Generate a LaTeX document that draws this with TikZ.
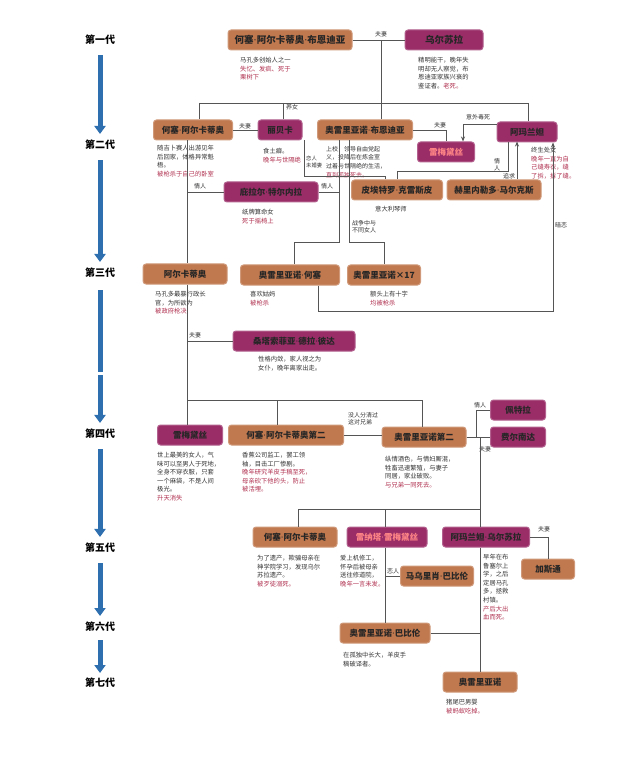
\documentclass[tikz,border=0pt]{standalone}
\usepackage{fontspec}
\setmainfont{Noto Sans CJK SC}
\newfontfamily\latf{DejaVu Sans}
\newcommand{\dt}{{\latf\mdseries ·}}
\usetikzlibrary{arrows.meta}
\definecolor{boxo}{HTML}{C0784E}
\definecolor{boxp}{HTML}{9A2D68}
\definecolor{redt}{HTML}{B0304F}
\definecolor{notegray}{HTML}{333333}
\definecolor{lin}{HTML}{555555}
\definecolor{blu}{HTML}{2E6FB0}
\begin{document}
\begin{tikzpicture}[x=1pt,y=-1pt,
  ob/.style={rectangle,rounded corners=3pt,fill=boxo,draw=boxo!75!white,line width=1pt,inner sep=0pt,minimum height=20pt,text=black!85,font=\bfseries\fontsize{8.5}{9}\selectfont},
  pb/.style={ob,fill=boxp,draw=boxp!75!white},
  note/.style={anchor=north west,align=left,inner sep=0pt,text=notegray,font=\fontsize{6.3}{8.6}\selectfont},
  lab/.style={inner sep=0pt,text=notegray,font=\fontsize{6}{7}\selectfont},
  gen/.style={inner sep=0pt,font=\bfseries\fontsize{10}{11}\selectfont},
  con/.style={draw=lin,line width=0.8pt},
  arr/.style={con,-{Stealth[length=5pt,width=4pt]}},
  barr/.style={draw=blu,line width=5pt,-{Triangle[width=11pt,length=8pt]}}]
\useasboundingbox[fill=white] (0,0) rectangle (640,775);
% generation labels
\node[gen] (g1) at (100,40) {第一代};
\node[gen] (g2) at (100,145) {第二代};
\node[gen] (g3) at (100,273) {第三代};
\node[gen] (g4) at (100,434) {第四代};
\node[gen] (g5) at (100,548) {第五代};
\node[gen] (g6) at (100,627) {第六代};
\node[gen] (g7) at (100,683) {第七代};
\draw[barr] (g1.south)++(0,10) -- ([yshift=6pt]g2.north);
\draw[barr] (g2.south)++(0,10) -- ([yshift=6pt]g3.north);
\draw[blu,line width=5pt] (g3.south)++(0,12) -- (100,372);
\draw[barr] (100,375) -- ([yshift=6pt]g4.north);
\draw[barr] (g4.south)++(0,10) -- ([yshift=6pt]g5.north);
\draw[barr] (g5.south)++(0,10) -- ([yshift=6pt]g6.north);
\draw[barr] (g6.south)++(0,8) -- ([yshift=5pt]g7.north);
% gen 1
\node[ob,minimum width=124pt,font=\bfseries\fontsize{9.5}{10}\selectfont] (A1) at (290,40) {何塞\dt 阿尔卡蒂奥\dt 布恩迪亚};
\node[pb,minimum width=78pt,font=\bfseries\fontsize{9.5}{10}\selectfont] (U) at (444,40) {乌尔苏拉};
\node[note] at (240,57) {马孔多创始人之一\\\textcolor{redt}{失忆、发疯、死于}\\\textcolor{redt}{栗树下}};
\node[note] at (418,57) {精明能干，晚年失\\明却无人察觉，布\\恩迪亚家族兴衰的\\鉴证者。\textcolor{redt}{老死。}};
% gen 2
\node[ob,minimum width=79pt] (J1) at (193,130) {何塞\dt 阿尔卡蒂奥};
\node[pb,minimum width=44pt] (R) at (280,130) {丽贝卡};
\node[ob,minimum width=95pt] (O1) at (365,130) {奥雷里亚诺\dt 布恩迪亚};
\node[pb,minimum width=57pt,text=pink!70!red] (Rm) at (446,152) {雷梅黛丝};
\node[pb,minimum width=60pt] (Am) at (527,132) {阿玛兰妲};
\node[ob,minimum width=91pt] (PC) at (397,190) {皮埃特罗\dt 克雷斯皮};
\node[ob,minimum width=94pt] (HM) at (494,190) {赫里内勒多\dt 马尔克斯};
\node[pb,minimum width=94pt] (Pi) at (271,192) {庇拉尔\dt 特尔内拉};
\node[note] at (157,145) {随吉卜赛人出游见年\\后回家，体格异常魁\\梧。\\\textcolor{redt}{被枪杀于自己的卧室}};
\node[note] at (263,148) {食土癖。\\\textcolor{redt}{晚年与世隔绝}};
\node[note,font=\fontsize{6}{8.6}\selectfont] at (326,146) {上校，领导自由党起\\义，投降后在炼金室\\过着与世隔绝的生活，\\\textcolor{redt}{直到孤独死去。}};
\node[note] at (531,147) {终生处女\\\textcolor{redt}{晚年一直为自}\\\textcolor{redt}{己缝寿衣，缝}\\\textcolor{redt}{了拆，拆了缝。}};
\node[note] at (375,206) {意大利琴师};
\node[note] at (242,209) {纸牌算命女\\\textcolor{redt}{死于摇椅上}};
% gen 3
\node[ob,minimum width=84pt] (Ar) at (185,274) {阿尔卡蒂奥};
\node[ob,minimum width=99pt] (OJ) at (290,275) {奥雷里亚诺\dt 何塞};
\node[ob,minimum width=73pt] (O17) at (384,275) {奥雷里亚诺×17};
\node[note] at (155,291) {马孔多最暴行政长\\官，为所欲为\\\textcolor{redt}{被政府枪决}};
\node[note] at (250,291) {喜欢姑妈\\\textcolor{redt}{被枪杀}};
\node[note] at (370,291) {额头上有十字\\\textcolor{redt}{均被枪杀}};
\node[pb,minimum width=122pt] (SS) at (294,341) {桑塔索菲亚\dt 德拉\dt 彼达};
\node[note] at (258,356) {性格内敛，家人视之为\\女仆，晚年离家出走。};
% gen 4
\node[pb,minimum width=65pt] (Rb) at (190,435) {雷梅黛丝};
\node[ob,minimum width=115pt] (JA2) at (286,435) {何塞\dt 阿尔卡蒂奥第二};
\node[ob,minimum width=84pt] (A2) at (424,437) {奥雷里亚诺第二};
\node[pb,minimum width=55pt] (Pe) at (518,410) {佩特拉};
\node[pb,minimum width=55pt] (Fe) at (518,437) {费尔南达};
\node[note] at (157,452) {世上最美的女人，气\\味可以至男人于死地，\\全身不穿衣服，只套\\一个麻袋，不是人间\\极光。\\\textcolor{redt}{升天消失}};
\node[note] at (242,452) {香蕉公司监工，罢工领\\袖，目击工厂惨剧。\\\textcolor{redt}{晚年研究羊皮手稿至死，}\\\textcolor{redt}{母亲砍下他的头，防止}\\\textcolor{redt}{被活埋。}};
\node[note] at (385,456) {纵情酒色，与情妇厮混，\\牲畜迅速繁殖，与妻子\\同居，家业破败。\\\textcolor{redt}{与兄弟一同死去。}};
% gen 5
\node[ob,minimum width=84pt] (JA5) at (295,537) {何塞\dt 阿尔卡蒂奥};
\node[pb,minimum width=80pt,text=pink!70!red] (Me) at (387,537) {雷纳塔\dt 雷梅黛丝};
\node[pb,minimum width=87pt] (AU) at (486,537) {阿玛兰妲\dt 乌尔苏拉};
\node[ob,minimum width=53pt] (Ga) at (548,569) {加斯通};
\node[ob,minimum width=73pt] (MB) at (437,576) {马乌里肖\dt 巴比伦};
\node[note] at (257,555) {为了遗产，欺骗母亲在\\神学院学习，发现乌尔\\苏拉遗产。\\\textcolor{redt}{被歹徒溺死。}};
\node[note] at (340,555) {爱上机修工，\\怀孕后被母亲\\送往修道院，\\\textcolor{redt}{晚年一言未发。}};
\node[note] at (483,554) {早年在布\\鲁塞尔上\\学，之后\\定居马孔\\多，拯救\\村镇。\\\textcolor{redt}{产后大出}\\\textcolor{redt}{血而死。}};
% gen 6, 7
\node[ob,minimum width=90pt] (OB) at (385,633) {奥雷里亚诺\dt 巴比伦};
\node[note] at (343,652) {在孤独中长大，羊皮手\\稿破译者。};
\node[ob,minimum width=74pt] (A7) at (480,682) {奥雷里亚诺};
\node[note] at (446,699) {猪尾巴男婴\\\textcolor{redt}{被蚂蚁吃掉。}};
% connectors gen1-2
\coordinate (m1) at (381,40);
\coordinate (b1L) at (199,103);
\coordinate (b1R) at (528,103);
\coordinate (b1r) at (283,103);
\draw[con] (A1) -- (U);
\node[lab] at (381,34) {夫妻};
\draw[con] (m1) -- (m1 |- b1L);
\draw[con] (b1L) -- (b1R);
\draw[con] (m1 |- b1L) -- (m1 |- O1.north);
\draw[con] (b1L) -- (b1L |- J1.north);
\draw[con] (b1r) -- (b1r |- R.north);
\draw[con] (b1R) -- (b1R |- Am.north);
\node[lab] at (292,107) {养女};
\draw[con] (J1) -- (R);
\node[lab] at (245,126) {夫妻};
\draw[con] (O1.east) -| (Rm.north);
\node[lab] at (440,125) {夫妻};
\draw[arr] (Am.west) ++(0,-8) -| ([xshift=17pt]Rm.north);
\node[lab] at (478,117) {意外毒死};
\draw[con] ([xshift=2pt]R.south east) -- ++(0,36) -| ([xshift=-12pt]PC.north);
\node[lab,align=left,anchor=west,font=\fontsize{5.3}{6.3}\selectfont] at (306,162) {恋人\\未婚妻};
\draw[con] (PC.north) -- ++(0,-8) -| ([xshift=-19pt]Am.south);
\node[lab,align=center] at (497,165) {情\\人};
\draw[arr] ([xshift=23pt]HM.north) -- ++(0,-38);
\node[lab] at (509,176) {追求};
\draw[arr] ([xshift=28pt]OJ.south) -- ++(0,26) -| ([xshift=26pt]Am.south);
\node[lab] at (561,225) {暗恋};
\draw[con] ([xshift=-6pt]J1.south) -- ([xshift=2pt]Ar.north);
\draw[con] (Pi.west) -- (187,192);
\node[lab] at (200,186) {情人};
\draw[con] (Pi.east) -- (339,192);
\node[lab] at (327,186) {情人};
\draw[con] ([xshift=-26pt]O1.south) -- ++(0,102) -| ([xshift=4pt]OJ.north);
\draw[con] ([xshift=-16pt]O1.south) -- ++(0,102) -| (O17.north);
\node[lab,align=left,anchor=west] at (352,227) {战争中与\\不同女人};
% gen 3-4
\coordinate (b4L) at (187,400);
\coordinate (b4R) at (422,400);
\coordinate (b4m) at (277,400);
\draw[con] ([xshift=2pt]Ar.south) -- (b4L) -- (b4R);
\draw[con] (187,341) -- (SS.west);
\node[lab] at (195,335) {夫妻};
\draw[con] (b4L) -- (b4L |- Rb.north);
\draw[con] (b4m) -- (b4m |- JA2.north);
\draw[con] (b4R) -- (b4R |- A2.north);
\draw[con] (JA2.east) -- (JA2.east -| A2.west);
\node[lab,align=left] at (363,419) {没人分清过\\这对兄弟};
\draw[con] (A2.east) -- ++(10,0) |- (Pe.west);
\node[lab] at (480,405) {情人};
\draw[con] (A2.east) -- (Fe.west);
\coordinate (c5) at (480,437);
\coordinate (b5L) at (298,509);
\coordinate (b5R) at (480,509);
\coordinate (b5m) at (385,509);
\node[lab] at (485,449) {夫妻};
\draw[con] (c5) -- (b5R) -- (b5L);
\draw[con] (b5L) -- (b5L |- JA5.north);
\draw[con] (b5m) -- (b5m |- Me.north);
\draw[con] (b5R) -- (b5R |- AU.north);
% gen 5-7
\draw[con] (AU.east) -| (Ga.north);
\node[lab] at (544,529) {夫妻};
\draw[con] ([xshift=-2pt]Me.south) -- (OB.north);
\draw[con] (385,576) -- (MB.west);
\node[lab] at (393,571) {恋人};
\draw[con] ([xshift=-6pt]AU.south) -- (A7.north);
\draw[con] (OB.east) -- (OB.east -| A7.north);
\end{tikzpicture}
\end{document}
